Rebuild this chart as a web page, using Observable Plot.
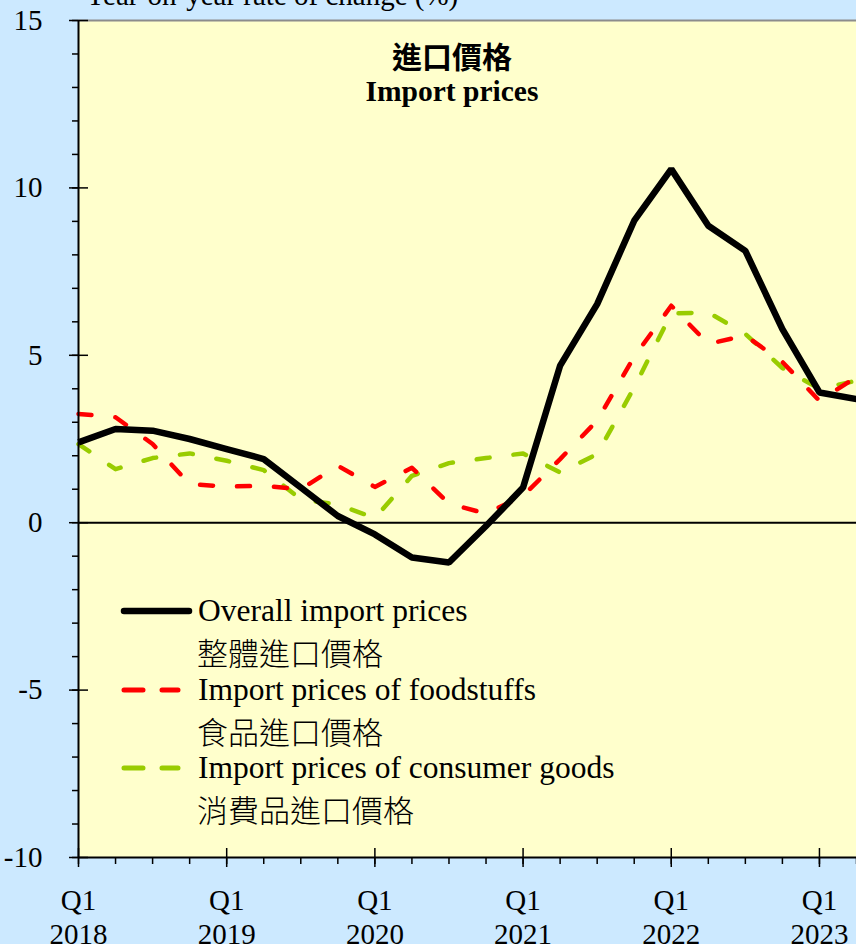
<!DOCTYPE html>
<html>
<head>
<meta charset="utf-8">
<script src="https://cdn.jsdelivr.net/npm/d3@7"></script>
<script src="https://cdn.jsdelivr.net/npm/@observablehq/plot@0.6"></script>
<style>
  html, body { margin: 0; padding: 0; background: #CCE9FF; }
  #wrap { position: relative; width: 856px; height: 944px; overflow: hidden; background: #CCE9FF; }
  #wrap svg { display: block; }
</style>
</head>
<body>
<div id="wrap"></div>
<script>
// Quarters from Q1 2018 to Q2 2023 (index 0..21)
const quarters = ["2018Q1","2018Q2","2018Q3","2018Q4","2019Q1","2019Q2","2019Q3","2019Q4",
  "2020Q1","2020Q2","2020Q3","2020Q4","2021Q1","2021Q2","2021Q3","2021Q4",
  "2022Q1","2022Q2","2022Q3","2022Q4","2023Q1","2023Q2"];
const years = ["2018","2019","2020","2021","2022","2023"];
const yTicks = [-10, -5, 0, 5, 10, 15];

// Year-on-year rate of change (%)
const overall    = [2.4, 2.8, 2.75, 2.5, 2.2, 1.9, 1.05, 0.2, -0.35, -1.04, -1.19, -0.1,
                    1.05, 4.69, 6.53, 9.02, 10.56, 8.87, 8.12, 5.78, 3.89, 3.69];
const foodstuffs = [3.25, 3.15, 2.35, 1.15, 1.08, 1.1, 1.0, 1.7, 1.07, 1.64, 0.57, 0.27,
                    0.8, 1.9, 3.05, 4.96, 6.48, 5.34, 5.59, 4.8, 3.64, 4.35];
const consumer   = [2.35, 1.6, 1.93, 2.07, 1.85, 1.57, 0.7, 0.54, 0.14, 1.4, 1.78, 1.93,
                    2.07, 1.5, 2.05, 4.04, 6.25, 6.28, 5.64, 4.62, 4.0, 4.24];

const titleZh = "進口價格";
const titleEn = "Import prices";
const yTitle = "Year-on-year rate of change (%)";
const legendItems = [
  {en: "Overall import prices", zh: "整體進口價格", color: "#000000", kind: "solid"},
  {en: "Import prices of foodstuffs", zh: "食品進口價格", color: "#FF0000", kind: "dash"},
  {en: "Import prices of consumer goods", zh: "消費品進口價格", color: "#99CC00", kind: "dash"}
];

const idx = quarters.map((q, i) => i);
const rows = s => idx.map(i => ({i, q: quarters[i], v: s[i]}));
const majorX = idx.filter(i => i % 4 === 0);
const minorY = d3.range(-10, 16, 1);

const SERIF = "'Liberation Serif', 'Times New Roman', serif";
const CJK = "'Noto Sans CJK TC', 'Noto Sans CJK SC', sans-serif";

const chart = Plot.plot({
  width: 856,
  height: 944,
  marginLeft: 78,
  marginRight: 0,
  marginTop: 20,
  marginBottom: 87,
  style: {background: "transparent", fontFamily: SERIF, fontSize: "29px", color: "#000", overflow: "visible"},
  x: {domain: [0, 21]},
  y: {domain: [-10, 15]},
  marks: [
    Plot.frame({fill: "#FFFFCC", stroke: null}),
    Plot.ruleY([15], {stroke: "#8c8c8c", strokeWidth: 2}),
    Plot.ruleY([0], {stroke: "#000", strokeWidth: 2}),
    Plot.line(rows(consumer), {x: "i", y: "v", stroke: "#99CC00", strokeWidth: 4.5,
      strokeDasharray: "13,24", strokeLinecap: "round", strokeLinejoin: "round"}),
    Plot.line(rows(foodstuffs), {x: "i", y: "v", stroke: "#FF0000", strokeWidth: 4.5,
      strokeDasharray: "13,24", strokeLinecap: "round", strokeLinejoin: "round"}),
    Plot.line(rows(overall), {x: "i", y: "v", stroke: "#000", strokeWidth: 6.5,
      strokeLinejoin: "miter", strokeLinecap: "butt"}),
    // axis lines
    Plot.ruleX([0], {stroke: "#000", strokeWidth: 2}),
    Plot.ruleY([-10], {stroke: "#000", strokeWidth: 2}),
    // inner parts of major ticks
    Plot.tickY(yTicks, {y: d => d, insetRight: 778 - 10, stroke: "#000", strokeWidth: 1.5}),
    Plot.tickX(majorX, {x: d => d, insetTop: 837 - 9, stroke: "#000", strokeWidth: 1.5}),
    // y axis minor ticks
    Plot.axisY({ticks: minorY, tickSize: 6, tickFormat: () => "", label: null, strokeWidth: 1.5}),
    // y axis major ticks + labels
    Plot.axisY({ticks: yTicks, tickSize: 9, tickPadding: 27, label: null, fontSize: 29,
      tickFormat: d => String(d), strokeWidth: 1.5}),
    // x axis minor ticks
    Plot.axisX({ticks: idx, tickSize: 7, tickFormat: () => "", label: null, strokeWidth: 1.5}),
    // x axis major ticks + labels
    Plot.axisX({ticks: majorX, tickSize: 10, tickPadding: 18, label: null, fontSize: 29,
      lineHeight: 1.17, tickFormat: i => `Q1\n${years[i / 4]}`, strokeWidth: 1.5})
  ]
});

document.getElementById("wrap").appendChild(chart);

const svg = d3.select(chart);
const g = svg.append("g").attr("text-anchor", "start").attr("fill", "#000");

// Y title (cut off at top)
g.append("text").attr("x", 85).attr("y", 5).attr("text-anchor", "start")
  .style("font-family", SERIF).style("font-size", "29px").text(yTitle);

// Chart title
g.append("text").attr("x", 452).attr("y", 55).attr("text-anchor", "middle")
  .attr("dominant-baseline", "central")
  .style("font-family", CJK).style("font-size", "30px").style("font-weight", "bold").text(titleZh);
g.append("text").attr("x", 452).attr("y", 101).attr("text-anchor", "middle")
  .style("font-family", SERIF).style("font-size", "29.5px").style("font-weight", "bold").text(titleEn);

// Legend
const rowY = [611, 690, 768];
legendItems.forEach((d, k) => {
  const y = rowY[k];
  if (d.kind === "solid") {
    g.append("line").attr("x1", 124).attr("x2", 189).attr("y1", y).attr("y2", y)
      .attr("stroke", d.color).attr("stroke-width", 6.5).attr("stroke-linecap", "round");
  } else {
    g.append("line").attr("x1", 124).attr("x2", 178).attr("y1", y).attr("y2", y)
      .attr("stroke", d.color).attr("stroke-width", 5).attr("stroke-linecap", "round")
      .attr("stroke-dasharray", "19,19");
  }
  g.append("text").attr("x", 198).attr("y", y + 10).attr("text-anchor", "start")
    .style("font-family", SERIF).style("font-size", "31.5px").text(d.en);
  g.append("text").attr("x", 197).attr("y", y + 40).attr("text-anchor", "start")
    .attr("dominant-baseline", "central")
    .style("font-family", CJK).style("font-size", "31px").style("font-weight", "300").text(d.zh);
});
</script>
</body>
</html>
